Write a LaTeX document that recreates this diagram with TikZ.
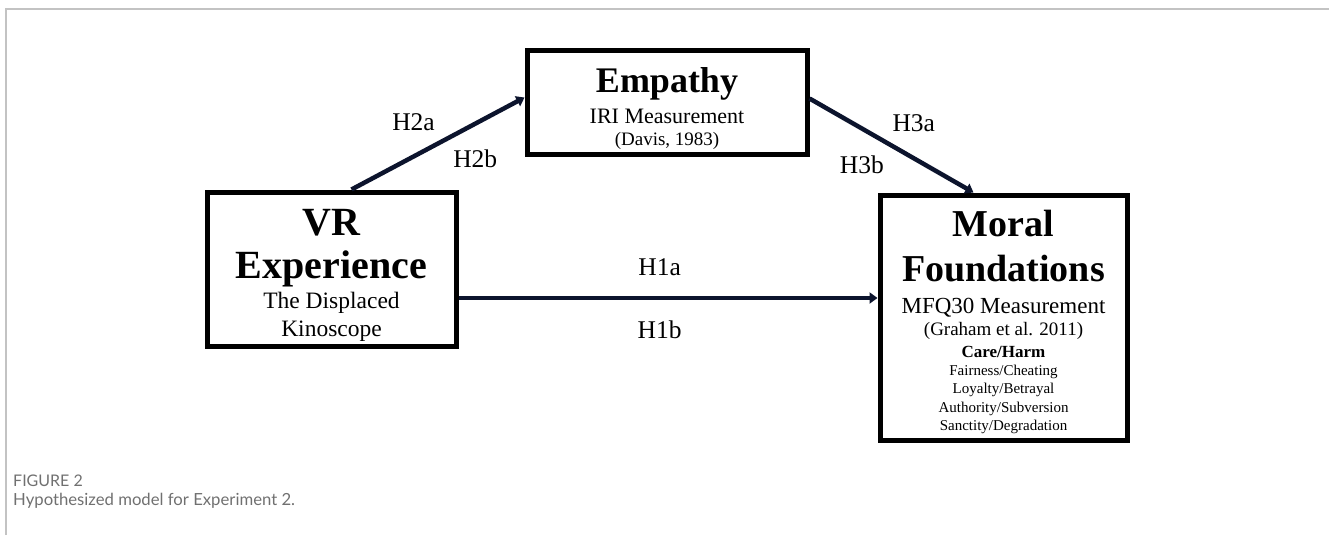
\documentclass[tikz,border=0pt]{standalone}
\usepackage{fontspec}
\setmainfont{Liberation Serif}
\newfontfamily\captionfont{Lato}
\usetikzlibrary{arrows.meta}
\definecolor{arrowink}{RGB}{12,20,45}
\definecolor{framegray}{RGB}{195,195,195}
\definecolor{captiongray}{RGB}{112,112,112}

\begin{document}
\begin{tikzpicture}[x=1pt, y=-1pt,
    box/.style={draw, line width=5pt, rectangle, inner sep=0pt},
    txt/.style={anchor=base, inner sep=0pt},
    hyp/.style={font=\fontsize{25.5}{25.5}\selectfont, text=black, inner sep=7pt},
    arr/.style={arrowink, line width=4.5pt, -{Triangle[length=8pt, width=11pt]}}
  ]
    \useasboundingbox (0,0) rectangle (1329,535);
    \draw[framegray, line width=1.5pt] (6,535) -- (6,9) -- (1329,9);

    \node[box, minimum width=249pt, minimum height=154pt] (vr) at (331.5,269) {};
    \node[box, minimum width=280pt, minimum height=103pt] (emp) at (667,102.5) {};
    \node[box, minimum width=247pt, minimum height=245pt] (moral) at (1003.5,317.5) {};

    \node[txt, font=\bfseries\fontsize{40}{40}\selectfont] (vr1) at (331.5,235) {VR};
    \node[txt, font=\bfseries\fontsize{40}{40}\selectfont] (vr2) at (331.5,278) {Experience};
    \node[txt, font=\fontsize{23.5}{23.5}\selectfont] (vr3) at (331.5,308) {The Displaced};
    \node[txt, font=\fontsize{23.5}{23.5}\selectfont] (vr4) at (331.5,336) {Kinoscope};

    \node[txt, font=\bfseries\fontsize{36}{36}\selectfont] (emp1) at (667,92) {Empathy};
    \node[txt, font=\fontsize{22}{22}\selectfont] (emp2) at (667,123) {IRI Measurement};
    \node[txt, font=\fontsize{19}{19}\selectfont] (emp3) at (667,145) {(Davis, 1983)};

    \node[txt, font=\bfseries\fontsize{38}{38}\selectfont] (mf1) at (1003.5,236) {Moral};
    \node[txt, font=\bfseries\fontsize{38}{38}\selectfont] (mf2) at (1003.5,281) {Foundations};
    \node[txt, font=\fontsize{23}{23}\selectfont] (mf3) at (1003.5,313) {MFQ30 Measurement};
    \node[txt, font=\fontsize{19}{19}\selectfont] (mf4) at (1003.5,335) {(Graham et al. 2011)};
    \node[txt, font=\bfseries\fontsize{17}{17}\selectfont] (mf5) at (1003.5,357) {Care/Harm};
    \node[txt, font=\fontsize{15}{15}\selectfont] (mf6) at (1003.5,375) {Fairness/Cheating};
    \node[txt, font=\fontsize{15}{15}\selectfont] (mf7) at (1003.5,393) {Loyalty/Betrayal};
    \node[txt, font=\fontsize{15}{15}\selectfont] (mf8) at (1003.5,412) {Authority/Subversion};
    \node[txt, font=\fontsize{15}{15}\selectfont] (mf9) at (1003.5,430) {Sanctity/Degradation};

    \path[arr]
      ([xshift=20pt]vr.north) edge node[hyp, pos=.535, above left] (h2a) {H2a}
        node[hyp, pos=.535, below right] (h2b) {H2b} ([yshift=5pt]emp.west)
      ([yshift=4pt]emp.east) edge node[hyp, pos=.45, above right] (h3a) {H3a}
        node[hyp, pos=.51, below left] (h3b) {H3b} ([xshift=-30pt]moral.north)
      ([yshift=-29pt]vr.east) edge node[hyp, pos=.48, above=12.7pt] (h1a) {H1a}
        node[hyp, pos=.48, below=13.7pt] (h1b) {H1b} ([yshift=19.5pt]moral.west);

    \node[txt, anchor=base west, font=\captionfont\fontsize{16}{16}\selectfont, text=captiongray] (fig) at (13,486) {FIGURE 2};
    \node[txt, anchor=base west, font=\captionfont\fontsize{16.7}{16.7}\selectfont, text=captiongray] (cap) at (13,505) {Hypothesized model for Experiment 2.};
  \end{tikzpicture}
\end{document}
